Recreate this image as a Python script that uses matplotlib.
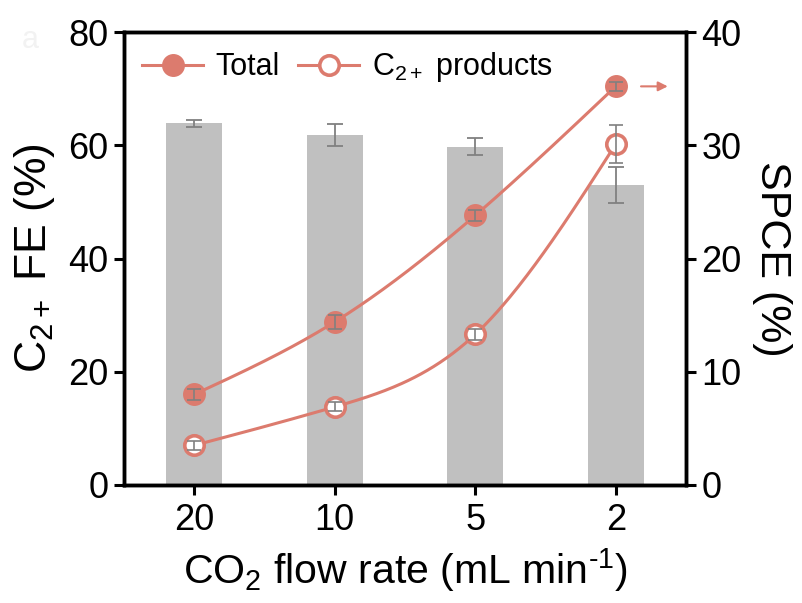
import numpy as np
import matplotlib
matplotlib.use("Agg")
import matplotlib.pyplot as plt

plt.rcParams['font.family'] = ['Liberation Sans', 'DejaVu Sans']
plt.rcParams['mathtext.fontset'] = 'custom'
plt.rcParams['mathtext.rm'] = 'Liberation Sans'
plt.rcParams['mathtext.it'] = 'Liberation Sans'

# Data
flow_labels = ["20", "10", "5", "2"]
fe_c2 = [63.9, 61.8, 59.7, 53.0]
fe_c2_err = [0.6, 1.9, 1.5, 3.2]
spce_total = [8.0, 14.4, 23.8, 35.2]
spce_total_err = [0.5, 0.6, 0.5, 0.4]
spce_c2 = [3.5, 6.9, 13.3, 30.1]
spce_c2_err = [0.4, 0.4, 0.5, 1.7]

RED = '#dc7b6e'
GREY_BAR = '#c0c0c0'
GREY_ERR = '#808080'


def natural_spline(x, y, n=200):
    x = np.asarray(x, float)
    y = np.asarray(y, float)
    m = len(x)
    h = np.diff(x)
    A = np.zeros((m, m))
    b = np.zeros(m)
    A[0, 0] = A[-1, -1] = 1.0
    for i in range(1, m - 1):
        A[i, i - 1] = h[i - 1]
        A[i, i] = 2 * (h[i - 1] + h[i])
        A[i, i + 1] = h[i]
        b[i] = 3 * ((y[i + 1] - y[i]) / h[i] - (y[i] - y[i - 1]) / h[i - 1])
    c = np.linalg.solve(A, b)
    xs = np.linspace(x[0], x[-1], n)
    ys = np.empty_like(xs)
    for k, xv in enumerate(xs):
        i = min(np.searchsorted(x, xv, side='right') - 1, m - 2)
        dx = xv - x[i]
        bi = (y[i + 1] - y[i]) / h[i] - h[i] * (2 * c[i] + c[i + 1]) / 3
        di = (c[i + 1] - c[i]) / (3 * h[i])
        ys[k] = y[i] + bi * dx + c[i] * dx ** 2 + di * dx ** 3
    return xs, ys


fig = plt.figure(figsize=(8.02, 6.03), dpi=100)
ax = fig.add_axes([124 / 802, 1 - 485 / 603, (686 - 124) / 802, (485 - 32) / 603])
x = np.arange(len(flow_labels))

ax.bar(x, fe_c2, width=0.4, color=GREY_BAR, zorder=1)
ax.errorbar(x, fe_c2, yerr=fe_c2_err, fmt='none', ecolor=GREY_ERR,
            elinewidth=1.3, capsize=6, capthick=1.3, zorder=2)
ax.set_xlim(-0.5, 3.5)
ax.set_ylim(0, 80)
ax.set_yticks([0, 20, 40, 60, 80])
ax.set_xticks(x)
ax.set_xticklabels(flow_labels)
ax.set_ylabel('C$_{2+}$ FE (%)', fontsize=32, labelpad=8)
ax.set_xlabel('CO$_2$ flow rate (mL min$^{\u20101}$)', fontsize=29.5, labelpad=6)

ax2 = ax.twinx()
ax2.set_ylim(0, 40)
ax2.set_yticks([0, 10, 20, 30, 40])
ax2.set_ylabel('SPCE (%)', fontsize=31, rotation=270, labelpad=36)

xs, ys = natural_spline(x, spce_total)
ax2.plot(xs, ys, color=RED, lw=2.2, zorder=3)
xs, ys = natural_spline(x, spce_c2)
ax2.plot(xs, ys, color=RED, lw=2.2, zorder=3)

ax2.plot(x, spce_total, 'o', color=RED, ms=15.5, mec=RED, zorder=4)
ax2.plot(x, spce_c2, 'o', color='white', ms=14, mec=RED, mew=2.6, zorder=4)
ax2.errorbar(x, spce_total, yerr=spce_total_err, fmt='none', ecolor=GREY_ERR,
             elinewidth=1.2, capsize=5, capthick=1.2, zorder=5)
ax2.errorbar(x, spce_c2, yerr=spce_c2_err, fmt='none', ecolor=GREY_ERR,
             elinewidth=1.2, capsize=5, capthick=1.2, zorder=5)

# arrow pointing to the right-hand axis
ax2.annotate('', xy=(3.39, spce_total[-1]), xytext=(3.16, spce_total[-1]),
             arrowprops=dict(arrowstyle='-|>', color=RED, lw=1.5,
                             mutation_scale=14))

# legend
h1, = ax.plot([], [], '-o', color=RED, ms=15.5, lw=2.2)
h2, = ax.plot([], [], '-o', color=RED, mfc='white', ms=14, mew=2.6, lw=2.2)
ax.legend([h1, h2], ['Total', 'C$_{2+}$ products'], loc='upper left', ncol=2,
          frameon=False, fontsize=22, handlelength=2.0, columnspacing=0.6,
          handletextpad=0.4, borderaxespad=0.2, bbox_to_anchor=(0.0, 1.0))

for a in (ax, ax2):
    for s in a.spines.values():
        s.set_linewidth(2.5)
    a.tick_params(axis='both', which='both', direction='out', length=7,
                  width=2.2, labelsize=26, pad=4)
ax.tick_params(axis='x', pad=6)

fig.text(30 / 802, 1 - 40 / 603, 'a', fontsize=22, color='#f2f2f2',
         ha='center', va='center')

fig.savefig('out.png', dpi=100)
